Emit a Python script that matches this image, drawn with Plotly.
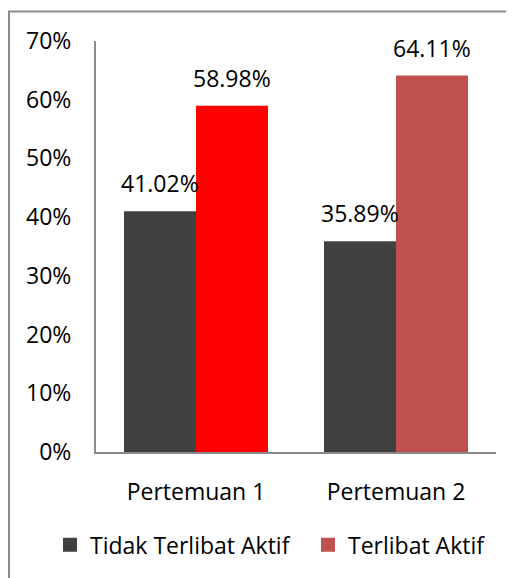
import plotly.graph_objects as go

categories = ["Pertemuan 1", "Pertemuan 2"]
tidak_aktif = [41.02, 35.89]
aktif = [58.98, 64.11]
aktif_colors = ["#FF0000", "#C0504D"]
legend_colors = ["#404040", "#C0504D"]
series_names = ["Tidak Terlibat Aktif", "Terlibat Aktif"]
y_ticks = [0, 10, 20, 30, 40, 50, 60, 70]

FONT = "Open Sans"
FS = 23
BW = 0.36

fig = go.Figure()
fig.add_trace(go.Bar(x=categories, y=tidak_aktif, name=series_names[0],
                     marker=dict(color="#404040", line=dict(width=0)),
                     width=BW, offset=-BW, showlegend=False))
fig.add_trace(go.Bar(x=categories, y=aktif, name=series_names[1],
                     marker=dict(color=aktif_colors, line=dict(width=0)),
                     width=BW, offset=0, showlegend=False))
for name, col, lg in zip(series_names, legend_colors, ["legend", "legend2"]):
    fig.add_trace(go.Bar(x=categories, y=[None, None], name=name, legend=lg,
                         marker=dict(color=col, line=dict(width=2, color=col)),
                         width=BW, offset=0))

anns = []
for i, c in enumerate(categories):
    anns.append(dict(x=c, y=tidak_aktif[i], xref="x", yref="y", text=f"{tidak_aktif[i]:.2f}%",
                     showarrow=False, xshift=-36, yshift=10, yanchor="bottom",
                     font=dict(family=FONT, size=FS, color="#000")))
    anns.append(dict(x=c, y=aktif[i], xref="x", yref="y", text=f"{aktif[i]:.2f}%",
                     showarrow=False, xshift=36, yshift=10, yanchor="bottom",
                     font=dict(family=FONT, size=FS, color="#000")))

legend_common = dict(orientation="h", xanchor="left", xref="paper",
                     yref="paper", y=-0.226, yanchor="middle",
                     font=dict(family=FONT, size=FS, color="#000"),
                     itemwidth=30, bgcolor="rgba(0,0,0,0)")

fig.update_layout(
    width=514, height=578,
    margin=dict(l=88, r=26, t=33, b=134, autoexpand=False),
    paper_bgcolor="white", plot_bgcolor="white",
    barmode="overlay",
    font=dict(family=FONT, size=FS, color="#000"),
    annotations=anns,
    showlegend=True,
    legend=dict(x=-0.115, **legend_common),
    legend2=dict(x=0.53, **legend_common),
    shapes=[dict(type="rect", xref="paper", yref="paper",
                 x0=-0.2175, x1=1.1, y0=-0.4, y1=1.0718,
                 line=dict(color="#8c8c8c", width=2), layer="below")],
)
fig.update_xaxes(showline=True, linecolor="#8c8c8c", linewidth=2, ticks="",
                 showgrid=False, ticklabelstandoff=18, range=[-0.5, 1.5])
fig.update_yaxes(range=[0, 70], tickvals=y_ticks, ticktext=[f"{v}%" for v in y_ticks],
                 showline=True, linecolor="#8c8c8c", linewidth=2, ticks="",
                 showgrid=False, zeroline=False, ticklabelstandoff=18)

fig.write_html("out.html")
